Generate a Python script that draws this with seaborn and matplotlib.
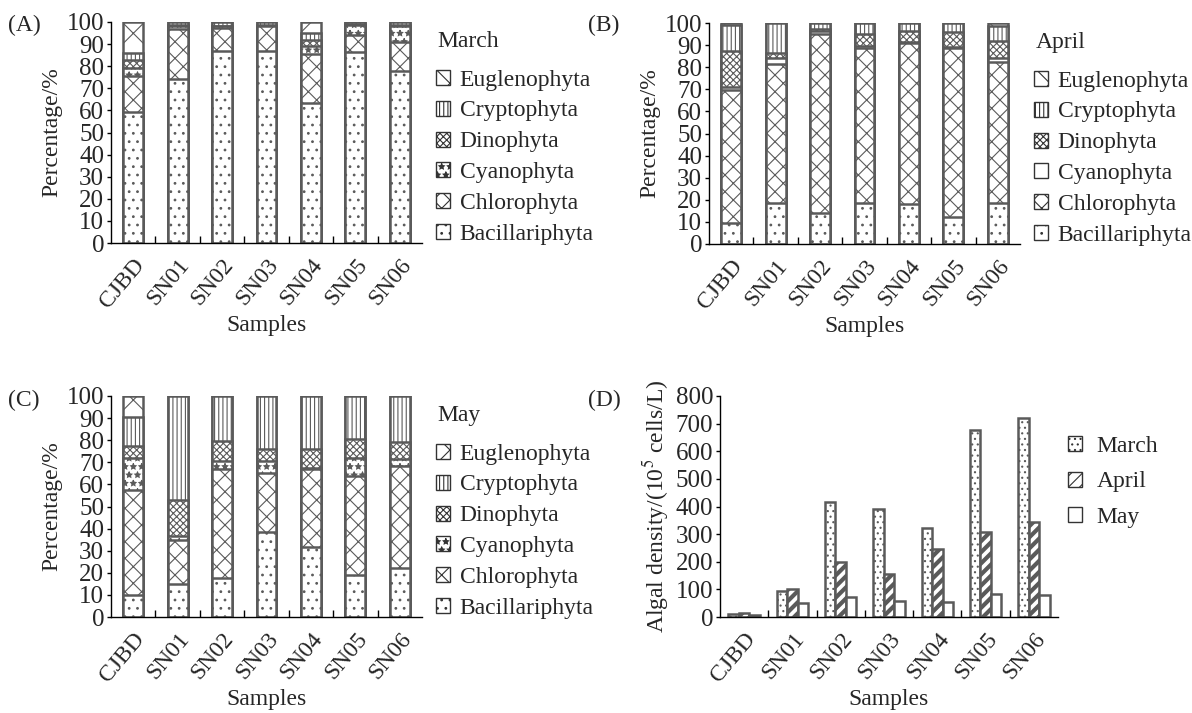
import numpy as np
import pandas as pd
import seaborn as sns
import matplotlib.pyplot as plt
from matplotlib.patches import Patch

samples = ['CJBD', 'SN01', 'SN02', 'SN03', 'SN04', 'SN05', 'SN06']
phyla = ['Bacillariphyta', 'Chlorophyta', 'Cyanophyta',
         'Dinophyta', 'Cryptophyta', 'Euglenophyta']

# percentage of each phylum (bottom -> top)
march_bac = [59.5, 74, 87, 87, 63.5, 86.5, 78]
march_chl = [16, 23, 10.5, 11, 22, 7.5, 13]
march_cya = [3.5, 1, 0.5, 0.3, 3.5, 4.5, 7]
march_din = [4, 0.5, 0.3, 0.2, 3, 0.5, 0.5]
march_cry = [3, 1.5, 1.7, 1.5, 3, 1, 1.5]
march_eug = [14, 0, 0, 0, 5, 0, 0]

april_bac = [9.5, 18.5, 14, 18.5, 18, 12, 18.5]
april_chl = [60, 63, 81, 70, 73, 76.5, 64]
april_cya = [1.5, 2.5, 1.5, 1, 0.5, 0.5, 1.5]
april_din = [16.5, 2.5, 1, 5.5, 5, 7, 8]
april_cry = [11.5, 13.5, 2.5, 5, 3.5, 4, 6.5]
april_eug = [1, 0, 0, 0, 0, 0, 1.5]

may_bac = [10, 15, 17.5, 38.5, 31.5, 19, 22]
may_chl = [47.5, 20, 49.5, 26.5, 35.5, 45, 46.5]
may_cya = [14.5, 1.5, 3.5, 5.5, 0.5, 8, 3]
may_din = [5.5, 16.5, 9, 5.5, 8.5, 8.5, 7.5]
may_cry = [13, 47, 20.5, 24, 24, 19.5, 21]
may_eug = [9.5, 0, 0, 0, 0, 0, 0]

# algal density (10^5 cells/L)
dens_march = [10, 95, 415, 390, 322, 678, 720]
dens_april = [15, 103, 200, 157, 245, 306, 343]
dens_may = [7, 50, 73, 57, 55, 85, 78]

sns.set_theme(style='ticks')
plt.rcParams['font.family'] = ['Liberation Serif', 'DejaVu Serif']
plt.rcParams['mathtext.fontset'] = 'stix'
plt.rcParams['hatch.color'] = 'black'
plt.rcParams['hatch.linewidth'] = 0.8

FS = 17
EDGE = '#5a5a5a'

hatches = {'Bacillariphyta': '..', 'Chlorophyta': 'xx', 'Cyanophyta': '**',
           'Dinophyta': 'xxxxx', 'Cryptophyta': '||||', 'Euglenophyta': 'x'}

fig = plt.figure(figsize=(11.92, 7.13), dpi=100)
W, H = 1192, 713


def axes_px(x0, x1, ytop, ybot):
    return fig.add_axes([x0 / W, (H - ybot) / H, (x1 - x0) / W, (ybot - ytop) / H])


def style_axes(ax, ymax, ystep, ylabel):
    ax.set_xlim(-0.5, 6.5)
    ax.set_ylim(0, ymax)
    ax.set_yticks(np.arange(0, ymax + 1, ystep))
    ax.set_xticks(range(len(samples)))
    ax.set_xticks(np.arange(0.5, 6, 1), minor=True)
    ax.set_xticklabels(samples, rotation=50, ha='right', va='top',
                       rotation_mode='anchor', fontsize=FS)
    ax.tick_params(axis='x', which='major', length=0, pad=8)
    ax.tick_params(axis='x', which='minor', direction='in', length=5, width=1, color='black')
    ax.tick_params(axis='y', direction='out', length=3, width=1, labelsize=FS + 1, pad=2, color='black')
    for s in ['top', 'right']:
        ax.spines[s].set_visible(False)
    for s in ['left', 'bottom']:
        ax.spines[s].set_color('black')
        ax.spines[s].set_linewidth(1.0)
    ax.set_xlabel('Samples', fontsize=FS, labelpad=2)
    ax.set_ylabel(ylabel, fontsize=FS, labelpad=3)


def stacked(ax, parts, title, cya_hatch):
    data = np.array(parts)
    cum = np.cumsum(data, axis=0)
    for i in range(len(phyla) - 1, -1, -1):
        n0 = len(ax.patches)
        sns.barplot(x=samples, y=cum[i], color='white', saturation=1, width=0.45,
                    edgecolor=EDGE, linewidth=1.8, ax=ax)
        h = cya_hatch if phyla[i] == 'Cyanophyta' else hatches[phyla[i]]
        for p in ax.patches[n0:]:
            p.set_hatch(h)
    style_axes(ax, 100, 10, 'Percentage/%')
    handles = []
    for ph in phyla[::-1]:
        h = cya_hatch if ph == 'Cyanophyta' else hatches[ph]
        handles.append(Patch(facecolor='white', edgecolor='#333333', hatch=h, label=ph))
    ax.legend(handles=handles, loc='upper left', bbox_to_anchor=(1.045, 0.785),
              frameon=False, fontsize=FS, handlelength=0.6, handleheight=0.6,
              handletextpad=0.4, labelspacing=0.42, borderpad=0, borderaxespad=0)
    ax.text(1.05, 0.91, title, transform=ax.transAxes, fontsize=FS,
            ha='left', va='center')


axA = axes_px(111, 422, 22, 243)
stacked(axA, [march_bac, march_chl, march_cya, march_din, march_cry, march_eug], 'March', '**')

axB = axes_px(709, 1020, 23, 244)
stacked(axB, [april_bac, april_chl, april_cya, april_din, april_cry, april_eug], 'April', '')

axC = axes_px(111, 422, 396, 617)
stacked(axC, [may_bac, may_chl, may_cya, may_din, may_cry, may_eug], 'May', '**')

# panel D: grouped bars
axD = axes_px(720, 1058, 396, 617)
df = pd.DataFrame({
    'Sample': samples * 3,
    'Month': ['March'] * 7 + ['April'] * 7 + ['May'] * 7,
    'Density': dens_march + dens_april + dens_may,
})
sns.barplot(data=df, x='Sample', y='Density', hue='Month', palette=['white'] * 3,
            saturation=1, width=0.65, edgecolor=EDGE, linewidth=1.8, ax=axD, legend=False)
month_hatch = {'March': '...', 'April': '///', 'May': ''}
for cont, m in zip(axD.containers, ['March', 'April', 'May']):
    for p in cont:
        p.set_hatch(month_hatch[m])
        if m == 'April' and hasattr(p, 'set_hatch_linewidth'):
            p.set_hatch_linewidth(3)
style_axes(axD, 800, 100, 'Algal density/(10$^5$ cells/L)')
handlesD = []
for m in ['March', 'April', 'May']:
    hp = Patch(facecolor='white', edgecolor='#333333', hatch=month_hatch[m], label=m)
    if m == 'April' and hasattr(hp, 'set_hatch_linewidth'):
        hp.set_hatch_linewidth(3)
    handlesD.append(hp)
axD.legend(handles=handlesD, loc='upper left', bbox_to_anchor=(1.03, 0.82),
           frameon=False, fontsize=FS, handlelength=0.6, handleheight=0.6,
           handletextpad=0.6, labelspacing=0.62, borderpad=0, borderaxespad=0)

for lab, x, y in [('(A)', 8, 25), ('(B)', 588, 25), ('(C)', 8, 400), ('(D)', 588, 400)]:
    fig.text(x / W, 1 - y / H, lab, fontsize=FS, ha='left', va='center')

fig.savefig('out.png', dpi=100)
